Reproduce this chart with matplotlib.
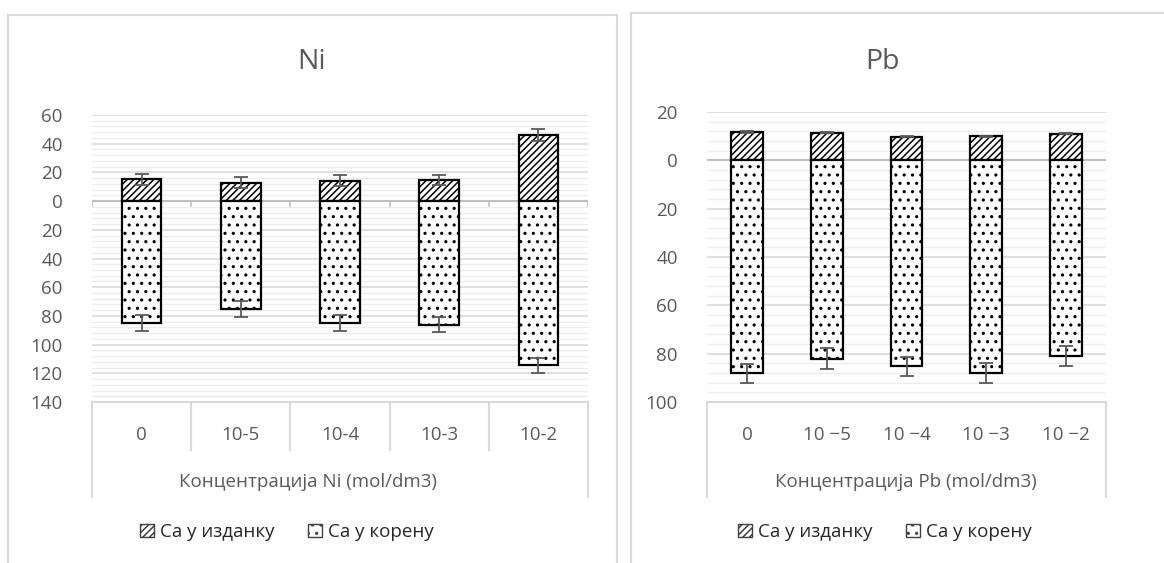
import numpy as np
import matplotlib.pyplot as plt
from matplotlib.patches import Patch, Rectangle
from matplotlib.ticker import FuncFormatter, MultipleLocator

plt.rcParams['font.family'] = ['Open Sans', 'DejaVu Sans']
plt.rcParams['hatch.linewidth'] = 1.1

# Ni treatment
ni_labels = ['0', '10-5', '10-4', '10-3', '10-2']
ni_shoot = [15.1, 12.8, 14.2, 14.6, 46.0]
ni_shoot_err = [3.7, 4.0, 3.9, 3.7, 4.0]
ni_root = [85.2, 75.0, 84.8, 86.2, 114.3]
ni_root_err = [5.5, 5.5, 5.5, 5.3, 5.3]

# Pb treatment
pb_labels = ['0', '10 \u22125', '10 \u22124', '10 \u22123', '10 \u22122']
pb_shoot = [11.7, 11.5, 9.8, 9.9, 11.0]
pb_shoot_err = [0.3, 0.3, 0.3, 0.3, 0.3]
pb_root = [88.2, 82.0, 85.2, 88.0, 81.1]
pb_root_err = [4.1, 4.2, 4.0, 4.2, 4.1]

W, H = 1164, 563
fig = plt.figure(figsize=(W / 100, H / 100), dpi=100)

GRID = '#d9d9d9'
MINOR = '#ececec'
TXT = '#595959'
FS = 13.5


def px_axes(left, top, right, bottom):
    return fig.add_axes([left / W, 1 - bottom / H, (right - left) / W, (bottom - top) / H])


def panel(ax, labels, shoot, shoot_err, root, root_err, ylim, title, title_xy,
          xtitle, xtitle_x, legend_x, seps, zero_ticks):
    x = np.arange(len(labels))
    n = len(labels)
    ax.set_xlim(-0.5, n - 0.5)
    ax.set_ylim(*ylim)
    for s in ax.spines.values():
        s.set_visible(False)
    ax.yaxis.set_major_locator(MultipleLocator(20))
    ax.yaxis.set_minor_locator(MultipleLocator(4))
    ax.yaxis.set_major_formatter(FuncFormatter(lambda v, p: f'{abs(v):.0f}'))
    ax.grid(True, which='major', axis='y', color=GRID, lw=1.2, zorder=0)
    ax.grid(True, which='minor', axis='y', color=MINOR, lw=1.0, zorder=0)
    ax.tick_params(axis='y', which='both', length=0, labelsize=FS,
                   labelcolor=TXT, pad=21)
    ax.set_xticks([])
    ax.set_axisbelow(True)

    root_neg = [-v for v in root]
    ax.bar(x, shoot, 0.4, color='white', edgecolor='black', hatch='/////',
           lw=1.6, zorder=2)
    ax.bar(x, root_neg, 0.4, color='white', edgecolor='black', hatch='..',
           lw=1.6, zorder=2)
    ax.errorbar(x, shoot, yerr=shoot_err, fmt='none', ecolor='#595959',
                elinewidth=1.3, capsize=5, capthick=1.3, zorder=3)
    ax.errorbar(x, root_neg, yerr=root_err, fmt='none', ecolor='#595959',
                elinewidth=1.3, capsize=5, capthick=1.3, zorder=3)

    # category axis on zero
    ax.axhline(0, color='#bfbfbf', lw=1.5, zorder=1)
    if zero_ticks:
        for b in np.arange(-0.5, n, 1.0):
            ax.plot([b, b], [0, -(ylim[1] - ylim[0]) * 0.018], color='#bfbfbf',
                    lw=1.2, zorder=1)

    # multi-level category box under the plot area
    tr = ax.get_xaxis_transform()
    hbox = 95 / (ax.get_position().height * H)
    hsep = 48 / (ax.get_position().height * H)
    ax.plot([-0.5, n - 0.5], [0, 0], color=GRID, lw=1.5, transform=tr, clip_on=False)
    for b in (-0.5, n - 0.5):
        ax.plot([b, b], [0, -hbox], color=GRID, lw=1.5, transform=tr, clip_on=False)
    if seps:
        for b in np.arange(0.5, n - 1, 1.0):
            ax.plot([b, b], [0, -hsep], color=GRID, lw=1.5, transform=tr, clip_on=False)
    lab_y = -33 / (ax.get_position().height * H)
    for xi, lab in zip(x, labels):
        ax.text(xi, lab_y, lab, transform=tr, ha='center', va='center',
                fontsize=FS, color=TXT)

    fig.text(xtitle_x / W, 1 - 482 / H, xtitle, ha='center', va='center',
             fontsize=FS, color=TXT)
    fig.text(title_xy[0] / W, 1 - title_xy[1] / H, title, ha='center',
             va='center', fontsize=20.5, color=TXT)

    handles = [Patch(facecolor='white', edgecolor='#404040', hatch='/////', lw=1.0),
               Patch(facecolor='white', edgecolor='#404040', hatch='..', lw=1.0)]
    fig.legend(handles, ['Са у изданку', 'Са у корену'], loc='center',
               bbox_to_anchor=(legend_x / W, 1 - 532 / H), ncol=2, frameon=False,
               fontsize=FS, handlelength=0.75, handleheight=0.75,
               handletextpad=0.3, columnspacing=1.8, labelcolor='#262626')


ax_ni = px_axes(92, 115, 588, 402)
panel(ax_ni, ni_labels, ni_shoot, ni_shoot_err, ni_root, ni_root_err,
      (-140, 60), 'Ni', (312, 62), 'Концентрација Ni (mol/dm3)', 308, 287,
      True, True)

ax_pb = px_axes(707, 112, 1106, 402)
panel(ax_pb, pb_labels, pb_shoot, pb_shoot_err, pb_root, pb_root_err,
      (-100, 20), 'Pb', (882, 62), 'Концентрација Pb (mol/dm3)', 906, 885,
      False, False)

# chart area borders
fig.patches.append(Rectangle((8 / W, -0.1), (617 - 8) / W, 1.1 - 15 / H,
                             transform=fig.transFigure, fill=False,
                             edgecolor=GRID, lw=1.5))
fig.patches.append(Rectangle((631 / W, -0.1), 0.5, 1.1 - 13 / H,
                             transform=fig.transFigure, fill=False,
                             edgecolor=GRID, lw=1.5))

fig.savefig('out.png', dpi=100)
